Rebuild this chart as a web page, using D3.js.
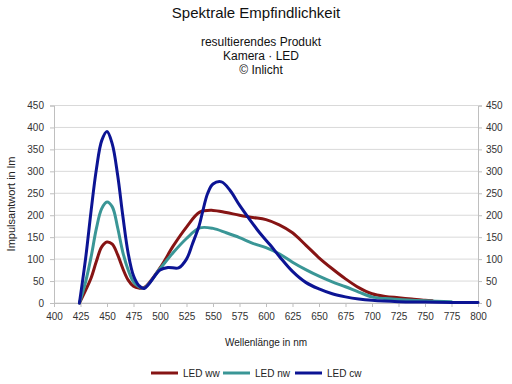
<!DOCTYPE html>
<html><head><meta charset="utf-8">
<script src="https://cdn.jsdelivr.net/npm/d3@7"></script>
<style>
html,body{margin:0;padding:0;background:#fff;}
svg{display:block;font-family:"Liberation Sans",Arial,sans-serif;}
</style></head>
<body><svg id="c" width="512" height="384"></svg>
<script>
const title = "Spektrale Empfindlichkeit";
const subtitle = ["resultierendes Produkt", "Kamera · LED", "© Inlicht"];
const xLabel = "Wellenlänge in nm";
const yLabel = "Impulsantwort in lm";
const xTicks = [400,425,450,475,500,525,550,575,600,625,650,675,700,725,750,775,800];
const yTicks = [0,50,100,150,200,250,300,350,400,450];
const seriesNames = ["LED ww","LED nw","LED cw"];
const seriesColors = ["#861414","#3a9696","#0c1494"];

const wwX = [424,430,435,440,445,450,455,460,465,470,475,480,485,500,512.5,525,537.5,550,562.5,575,587.5,600,612.5,625,637.5,650,662.5,675,687.5,700,712.5,725,737.5,750,757];
const wwY = [0,30,57,95,128,139,134,110,78,52,38,34,35,80,130,173,207,211,206,200,195,190,178,160,132,103,78,55,35,21,15,12,9,6,5];
const nwX = [424,430,435,440,445,450,455,460,465,470,475,480,485,500,512.5,525,537.5,550,562.5,575,587.5,600,612.5,625,637.5,650,662.5,675,687.5,700,712.5,725,750,775];
const nwY = [0,50,105,170,215,230,219,172,115,75,48,37,34,78,115,147,171,170,160,149,136,126,112,93,76,61,48,37,25,14,10,8,5,3];
const cwX = [424,430,435,440,445,450,455,460,465,470,475,480,485,500,507.5,517.5,525,530.5,537,540,545,550,558,566,575,585,594,604,613,625,637.5,650,662.5,675,687.5,700,725,750,775,800];
const cwY = [0,105,210,305,370,391,362,292,197,113,62,40,33,75,81,80,100,134,177,206,250,271,276,257,223,189,160,132,105,72,47,32,21,14,9,6,3,2,1,1];

const svg = d3.select("#c");
const L = 54, R = 478, T = 105.5, B = 303;
const x = d3.scaleLinear().domain([400,800]).range([L,R]);
const y = d3.scaleLinear().domain([0,450]).range([B,T]);

// gridlines
svg.append("g").selectAll("line").data(yTicks).join("line")
  .attr("x1",L).attr("x2",R).attr("y1",d=>y(d)).attr("y2",d=>y(d))
  .attr("stroke","#d9d9d9").attr("stroke-width",1);

const axStyle = g => {
  g.select(".domain").attr("stroke","#bfbfbf");
  g.selectAll(".tick line").attr("stroke","#bfbfbf");
  g.selectAll("text").attr("fill","#333").attr("font-size","10px").attr("font-family","Liberation Sans, Arial, sans-serif");
};
svg.append("g").attr("transform",`translate(0,${B})`)
  .call(d3.axisBottom(x).tickValues(xTicks).tickSizeOuter(0).tickSize(4).tickPadding(6))
  .call(axStyle);
svg.append("g").attr("transform",`translate(${L},0)`)
  .call(d3.axisLeft(y).tickValues(yTicks).tickSizeOuter(0).tickSize(4).tickPadding(6))
  .call(axStyle);
svg.append("g").attr("transform",`translate(${R},0)`)
  .call(d3.axisRight(y).tickValues(yTicks).tickSizeOuter(0).tickSize(4).tickPadding(4))
  .call(axStyle);

const line = d3.line().x(d=>x(d[0])).y(d=>y(d[1])).curve(d3.curveCatmullRom.alpha(0.5));
const series = [d3.zip(wwX,wwY), d3.zip(nwX,nwY), d3.zip(cwX,cwY)];
series.forEach((s,i)=>{
  svg.append("path").datum(s).attr("d",line).attr("fill","none")
    .attr("stroke",seriesColors[i]).attr("stroke-width",3).attr("stroke-linejoin","round").attr("stroke-linecap","round");
});

// titles
svg.append("text").attr("x",256).attr("y",18).attr("text-anchor","middle")
  .attr("font-size","15px").attr("fill","#111").text(title);
subtitle.forEach((t,i)=>{
  svg.append("text").attr("x",261).attr("y",46+i*14).attr("text-anchor","middle")
    .attr("font-size","12px").attr("fill","#111").text(t);
});
svg.append("text").attr("x",266).attr("y",346).attr("text-anchor","middle")
  .attr("font-size","10px").attr("fill","#222").text(xLabel);
svg.append("text").attr("transform","translate(15,204) rotate(-90)").attr("text-anchor","middle")
  .attr("font-size","11px").attr("fill","#222").text(yLabel);

// legend
const lg = svg.append("g");
const legX = [151,223,295];
seriesNames.forEach((n,i)=>{
  lg.append("line").attr("x1",legX[i]).attr("x2",legX[i]+27).attr("y1",373).attr("y2",373)
    .attr("stroke",seriesColors[i]).attr("stroke-width",3);
  lg.append("text").attr("x",legX[i]+32).attr("y",376.5).attr("font-size","10px").attr("fill","#222").text(n);
});
</script></body></html>
